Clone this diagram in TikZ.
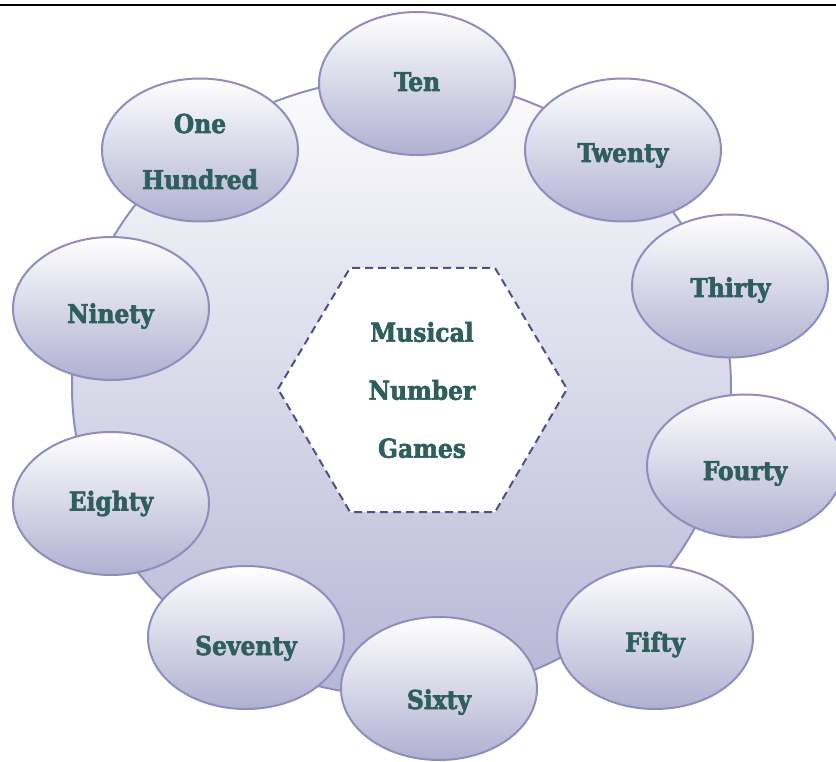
\documentclass[tikz,border=0pt]{standalone}
\usepackage{fontspec}
\newfontfamily\tf[FakeBold=2.2]{DejaVu Serif Condensed Bold}
\usetikzlibrary{shapes.geometric,calc}
\definecolor{txt}{RGB}{46,94,94}
\definecolor{edge}{RGB}{142,142,190}
\definecolor{lav}{RGB}{176,176,210}
\definecolor{biglav}{RGB}{182,182,214}
\definecolor{bigtop}{RGB}{252,252,253}
\definecolor{hexcol}{RGB}{80,80,136}
\begin{document}
\begin{tikzpicture}[x=1pt,y=-1pt,
  bub/.style={ellipse, draw=edge, line width=2pt, top color=white, bottom color=lav,
    minimum width=196pt, minimum height=143pt, inner sep=0pt},
  lbl/.style={font=\tf\fontsize{26}{30}\selectfont, text=txt, anchor=base, inner sep=0pt},
  mlbl/.style={font=\tf\fontsize{26}{58}\selectfont, text=txt, align=center, inner sep=0pt},
  hexline/.style={draw=hexcol, line width=2pt, dash pattern=on 8pt off 5pt, fill=white}]
\useasboundingbox (0,0) rectangle (836,762);
\draw[line width=2.4pt] (0,5) -- (836,5);
% big background ellipse
\node[ellipse, draw=edge, line width=2pt, top color=bigtop, bottom color=biglav,
  minimum width=659pt, minimum height=618pt, inner sep=0pt] (ring) at (401.5,387) {};
% hexagon
\coordinate (hub) at (422.5,390);
\draw[hexline] ($(hub)+(-144.5,-1)$) -- ($(hub)+(-72.5,-122)$) -- ($(hub)+(72.5,-122)$)
  -- ($(hub)+(144.5,-1)$) -- ($(hub)+(72.5,122)$) -- ($(hub)+(-72.5,122)$) -- cycle;
\node[mlbl] (hubtext) at (422,390) {Musical\\Number\\Games};
% bubbles
\node[bub] (ten) at (417,83.5) {};
\node[bub] (twenty) at (623,150) {};
\node[bub] (thirty) at (730,286) {};
\node[bub] (fourty) at (745,466) {};
\node[bub] (fifty) at (655,637.5) {};
\node[bub] (seventy) at (246,637.5) {};
\node[bub] (sixty) at (439,688.5) {};
\node[bub] (eighty) at (111,503.5) {};
\node[bub] (ninety) at (111,308.5) {};
\node[bub] (hundred) at (200,150) {};
% labels
\node[lbl] (tten) at (417,91) {Ten};
\node[lbl] (ttwenty) at (623,162) {Twenty};
\node[lbl] (tthirty) at (730.5,297) {Thirty};
\node[lbl] (tfourty) at (745,480) {Fourty};
\node[lbl] (tfifty) at (655,651.5) {Fifty};
\node[lbl] (tsixty) at (439,709) {Sixty};
\node[lbl] (tseventy) at (246,655) {Seventy};
\node[lbl] (teighty) at (111,510.5) {Eighty};
\node[lbl] (tninety) at (110.5,323) {Ninety};
\node[lbl] (tone) at (200,133) {One};
\node[lbl] (thundred) at (200,189) {Hundred};
\end{tikzpicture}
\end{document}
